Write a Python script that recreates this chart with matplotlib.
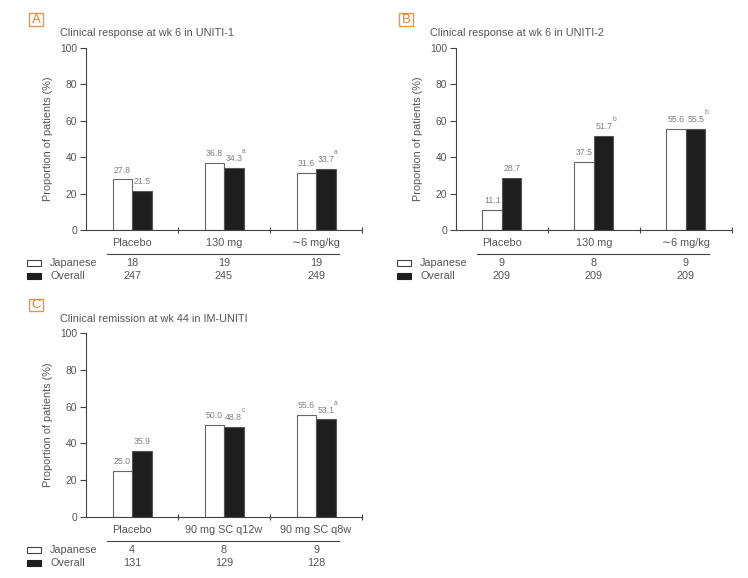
import matplotlib
matplotlib.use('Agg')
from matplotlib import pyplot as plt
from matplotlib.patches import Rectangle
from matplotlib.lines import Line2D
import numpy as np

plt.rcParams['font.family'] = ['Liberation Sans', 'DejaVu Sans']

# panel A - UNITI-1
a_title = 'Clinical response at wk 6 in UNITI-1'
a_cats = ['Placebo', '130 mg', '\u223c6 mg/kg']
a_jap = [27.8, 36.8, 31.6]
a_ovr = [21.5, 34.3, 33.7]
a_sup = ['', 'a', 'a']
a_n_jap = [18, 19, 19]
a_n_ovr = [247, 245, 249]

# panel B - UNITI-2
b_title = 'Clinical response at wk 6 in UNITI-2'
b_cats = ['Placebo', '130 mg', '\u223c6 mg/kg']
b_jap = [11.1, 37.5, 55.6]
b_ovr = [28.7, 51.7, 55.5]
b_sup = ['', 'b', 'b']
b_n_jap = [9, 8, 9]
b_n_ovr = [209, 209, 209]

# panel C - IM-UNITI
c_title = 'Clinical remission at wk 44 in IM-UNITI'
c_cats = ['Placebo', '90 mg SC q12w', '90 mg SC q8w']
c_jap = [25.0, 50.0, 55.6]
c_ovr = [35.9, 48.8, 53.1]
c_sup = ['', 'c', 'a']
c_n_jap = [4, 8, 9]
c_n_ovr = [131, 129, 128]

AX_COL = '#444444'
TXT_COL = '#555555'
VAL_COL = '#808080'
ORANGE = '#E8954A'
FS = 7.8


def panel(ax, letter, title, cats, jap, ovr, sup, n_jap, n_ovr):
    x = np.arange(len(cats))
    w = 0.212
    ax.bar(x - w / 2, jap, w, color='white', edgecolor='#666666', linewidth=0.8)
    ax.bar(x + w / 2, ovr, w, color='#1e1e1e', edgecolor='#555555', linewidth=0.8)
    for i in range(len(cats)):
        ax.annotate('%.1f' % jap[i], (x[i] - w / 2, jap[i]), xytext=(0, 3.5),
                    textcoords='offset points', ha='center', va='bottom',
                    fontsize=6.3, color=VAL_COL)
        ax.annotate('%.1f' % ovr[i], (x[i] + w / 2, ovr[i]), xytext=(0, 3.5),
                    textcoords='offset points', ha='center', va='bottom',
                    fontsize=6.3, color=VAL_COL)
        if sup[i]:
            ax.annotate(sup[i], (x[i] + w / 2, ovr[i]), xytext=(6.0, 9.3),
                        textcoords='offset points', ha='left', va='bottom',
                        fontsize=4.8, color=VAL_COL)

    ax.set_xlim(-0.5, 2.5)
    ax.set_ylim(0, 100)
    ax.set_yticks([0, 20, 40, 60, 80, 100])
    ax.set_xticks([0.5, 1.5, 2.5])
    ax.set_xticklabels([])
    ax.tick_params(axis='y', colors=AX_COL, labelcolor=TXT_COL, labelsize=7.4,
                   length=4, width=0.8, direction='out', pad=2.5)
    ax.tick_params(axis='x', colors=AX_COL, length=5, width=0.8, direction='inout')
    for s in ['top', 'right']:
        ax.spines[s].set_visible(False)
    for s in ['left', 'bottom']:
        ax.spines[s].set_color(AX_COL)
        ax.spines[s].set_linewidth(0.8)
    ax.set_ylabel('Proportion of patients (%)', fontsize=7.8, color=TXT_COL)
    ax.yaxis.set_label_coords(-0.118, 0.5)

    tr = ax.get_xaxis_transform()
    for i, c in enumerate(cats):
        ax.text(x[i], -0.07, c, transform=tr, ha='center', va='center',
                fontsize=FS, color=TXT_COL)
        ax.text(x[i], -0.18, str(n_jap[i]), transform=tr, ha='center', va='center',
                fontsize=FS, color=TXT_COL)
        ax.text(x[i], -0.25, str(n_ovr[i]), transform=tr, ha='center', va='center',
                fontsize=FS, color=TXT_COL)
    ax.add_line(Line2D([0.076, 0.917], [-0.13, -0.13], transform=ax.transAxes,
                       color=AX_COL, lw=0.8, clip_on=False))

    ta = ax.transAxes
    ax.add_patch(Rectangle((-0.214, -0.1965), 0.05, 0.033, transform=ta, clip_on=False,
                           facecolor='white', edgecolor='#444444', lw=0.8))
    ax.add_patch(Rectangle((-0.214, -0.2665), 0.05, 0.033, transform=ta, clip_on=False,
                           facecolor='#1e1e1e', edgecolor='#1e1e1e', lw=0.8))
    ax.text(-0.13, -0.18, 'Japanese', transform=ta, ha='left', va='center',
            fontsize=FS, color=TXT_COL)
    ax.text(-0.13, -0.25, 'Overall', transform=ta, ha='left', va='center',
            fontsize=FS, color=TXT_COL)

    ax.text(-0.094, 1.08, title, transform=ta, ha='left', va='center',
            fontsize=FS, color=TXT_COL)
    ax.add_patch(Rectangle((-0.2076, 1.1205), 0.053, 0.0675, transform=ta,
                           clip_on=False, facecolor='white', edgecolor=ORANGE, lw=1.0))
    ax.text(-0.181, 1.153, letter, transform=ta, ha='center', va='center',
            fontsize=9.5, color='#E07F2E')


fig = plt.figure(figsize=(7.48, 5.78), dpi=100)
axA = fig.add_axes([0.115, 0.6016, 0.369, 0.316])
axB = fig.add_axes([0.6096, 0.6016, 0.369, 0.316])
axC = fig.add_axes([0.115, 0.1055, 0.369, 0.318])

panel(axA, 'A', a_title, a_cats, a_jap, a_ovr, a_sup, a_n_jap, a_n_ovr)
panel(axB, 'B', b_title, b_cats, b_jap, b_ovr, b_sup, b_n_jap, b_n_ovr)
panel(axC, 'C', c_title, c_cats, c_jap, c_ovr, c_sup, c_n_jap, c_n_ovr)

fig.savefig('out.png', dpi=100)
